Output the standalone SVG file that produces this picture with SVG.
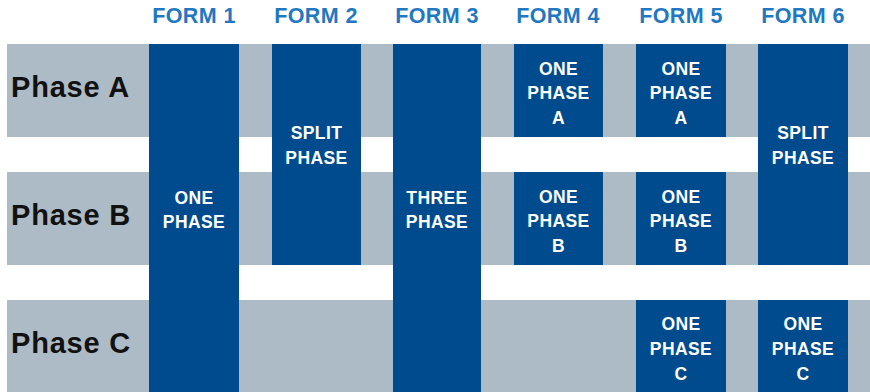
<svg xmlns="http://www.w3.org/2000/svg" width="870" height="392" viewBox="0 0 870 392">
<style>
.band{fill:#adbbc7}
.blk{fill:#004b8d}
.hdr{font-family:"Liberation Sans",Arial,sans-serif;font-weight:bold;font-size:21.5px;letter-spacing:0.4px;fill:#1f78c1;text-anchor:middle}
.ph{font-family:"Liberation Sans",Arial,sans-serif;font-weight:bold;font-size:29px;letter-spacing:0.8px;fill:#111111}
.lbl{font-family:"Liberation Sans",Arial,sans-serif;font-weight:bold;font-size:17.5px;letter-spacing:0.4px;fill:#ffffff;text-anchor:middle}
</style>
<rect width="870" height="392" fill="#ffffff"/>
<g id="bands">
<rect class="band" x="7" y="44" width="863" height="93"/>
<rect class="band" x="7" y="172" width="863" height="93"/>
<rect class="band" x="7" y="300" width="863" height="92"/>
</g>
<g id="headers">
<text class="hdr" x="194" y="23">FORM 1</text>
<text class="hdr" x="316" y="23">FORM 2</text>
<text class="hdr" x="437" y="23">FORM 3</text>
<text class="hdr" x="558" y="23">FORM 4</text>
<text class="hdr" x="681" y="23">FORM 5</text>
<text class="hdr" x="803" y="23">FORM 6</text>
</g>
<g id="phase-labels">
<text class="ph" x="11" y="97">Phase A</text>
<text class="ph" x="11" y="225">Phase B</text>
<text class="ph" x="11" y="353">Phase C</text>
</g>
<g id="form1">
<rect class="blk" x="149" y="44" width="90" height="348"/>
<text class="lbl" x="194" y="204">ONE</text>
<text class="lbl" x="194" y="228">PHASE</text>
</g>
<g id="form2">
<rect class="blk" x="272" y="44" width="89" height="221"/>
<text class="lbl" x="316.5" y="139">SPLIT</text>
<text class="lbl" x="316.5" y="164">PHASE</text>
</g>
<g id="form3">
<rect class="blk" x="393" y="44" width="88" height="348"/>
<text class="lbl" x="437" y="204">THREE</text>
<text class="lbl" x="437" y="228">PHASE</text>
</g>
<g id="form4-a">
<rect class="blk" x="514" y="44" width="89" height="93"/>
<text class="lbl" x="558.5" y="75">ONE</text>
<text class="lbl" x="558.5" y="99">PHASE</text>
<text class="lbl" x="558.5" y="124">A</text>
</g>
<g id="form4-b">
<rect class="blk" x="514" y="172" width="89" height="93"/>
<text class="lbl" x="558.5" y="203">ONE</text>
<text class="lbl" x="558.5" y="227">PHASE</text>
<text class="lbl" x="558.5" y="252">B</text>
</g>
<g id="form5-a">
<rect class="blk" x="636" y="44" width="90" height="93"/>
<text class="lbl" x="681" y="75">ONE</text>
<text class="lbl" x="681" y="99">PHASE</text>
<text class="lbl" x="681" y="124">A</text>
</g>
<g id="form5-b">
<rect class="blk" x="636" y="172" width="90" height="93"/>
<text class="lbl" x="681" y="203">ONE</text>
<text class="lbl" x="681" y="227">PHASE</text>
<text class="lbl" x="681" y="252">B</text>
</g>
<g id="form5-c">
<rect class="blk" x="636" y="300" width="90" height="92"/>
<text class="lbl" x="681" y="330">ONE</text>
<text class="lbl" x="681" y="355">PHASE</text>
<text class="lbl" x="681" y="380">C</text>
</g>
<g id="form6">
<rect class="blk" x="758" y="44" width="90" height="221"/>
<text class="lbl" x="803" y="139">SPLIT</text>
<text class="lbl" x="803" y="164">PHASE</text>
</g>
<g id="form6-c">
<rect class="blk" x="758" y="300" width="90" height="92"/>
<text class="lbl" x="803" y="330">ONE</text>
<text class="lbl" x="803" y="355">PHASE</text>
<text class="lbl" x="803" y="380">C</text>
</g>
<g id="connectors"/>
</svg>
